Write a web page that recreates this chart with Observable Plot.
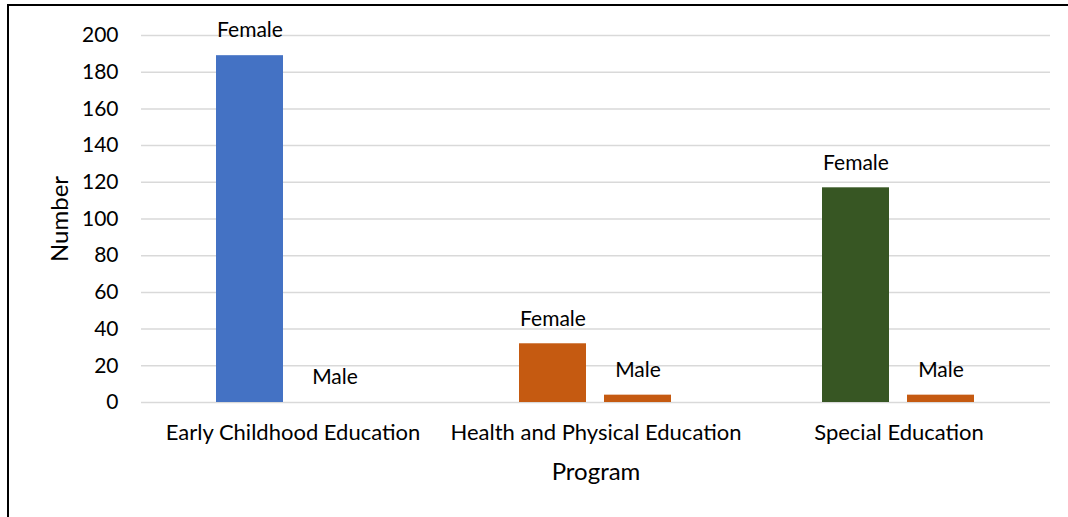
<!DOCTYPE html>
<html>
<head>
<meta charset="utf-8">
<script src="https://cdn.jsdelivr.net/npm/d3@7"></script>
<script src="https://cdn.jsdelivr.net/npm/@observablehq/plot@0.6"></script>
<style>
  html, body { margin: 0; padding: 0; background: #fff; }
  #wrap { position: relative; width: 1068px; height: 517px; overflow: hidden; }
  #frame { position: absolute; left: 7px; top: 4px; right: -10px; bottom: -10px;
           border-top: 2px solid #000; border-left: 2px solid #000; pointer-events: none; }
  g[aria-label="fx-axis label"] text, g[aria-label="y-axis label"] text { font-size: 24px; }
  g[aria-label="fx-axis tick label"] text { font-size: 22px; }
</style>
</head>
<body>
<div id="wrap"><div id="frame"></div></div>
<script>
const programs = ["Early Childhood Education", "Health and Physical Education", "Special Education"];
const sexes = ["Female", "Male"];
const femaleCounts = [189, 32, 117];
const maleCounts = [0, 4, 4];
const yTicks = [0, 20, 40, 60, 80, 100, 120, 140, 160, 180, 200];

const barFill = {
  "Early Childhood Education|Female": "#4472C4",
  "Early Childhood Education|Male": "#C55A11",
  "Health and Physical Education|Female": "#C55A11",
  "Health and Physical Education|Male": "#C55A11",
  "Special Education|Female": "#375623",
  "Special Education|Male": "#C55A11"
};

const rows = [];
programs.forEach((p, i) => {
  rows.push({program: p, sex: "Female", value: femaleCounts[i]});
  rows.push({program: p, sex: "Male", value: maleCounts[i]});
});

const chart = Plot.plot({
  width: 1068,
  height: 517,
  marginTop: 35,
  marginBottom: 115,
  marginLeft: 140,
  marginRight: 18,
  style: {fontFamily: "Lato, 'Open Sans', sans-serif", fontSize: "21px", color: "#000", background: "transparent", overflow: "visible"},
  fx: {domain: programs, padding: 0, label: "Program", labelAnchor: "center", labelArrow: "none", labelOffset: 77, tickSize: 0, tickPadding: 22},
  x: {domain: sexes, paddingInner: 0.209, paddingOuter: 0.868, axis: null},
  y: {domain: [0, 200], ticks: yTicks, tickSize: 0, tickPadding: 23, label: "Number", labelAnchor: "center", labelArrow: "none", labelOffset: 91},
  marks: [
    Plot.gridY(yTicks, {stroke: "#d9d9d9", strokeOpacity: 1, strokeWidth: 1.5}),
    Plot.barY(rows, {fx: "program", x: "sex", y: "value", fill: d => barFill[d.program + "|" + d.sex]}),
    Plot.text(rows, {fx: "program", x: "sex", y: "value", text: "sex", dy: -25, lineAnchor: "middle", fill: "#000", fontSize: 21})
  ]
});
document.getElementById("wrap").prepend(chart);
</script>
</body>
</html>
